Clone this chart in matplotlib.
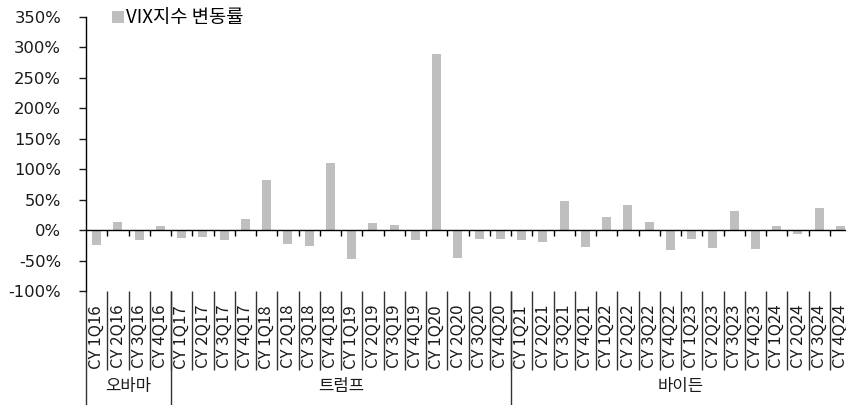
import matplotlib
matplotlib.use('Agg')
import matplotlib.pyplot as plt
import matplotlib.transforms as mtransforms
import numpy as np

plt.rcParams['font.family'] = ['Noto Sans CJK KR', 'DejaVu Sans']

quarters = [f'CY {q}Q{y}' for y in range(16, 25) for q in range(1, 5)]
vix_change = [-24, 14, -16, 7,
              -13, -11, -16, 18,
              82, -22, -26, 111,
              -48, 11, 9, -16,
              290, -45, -15, -15,
              -16, -20, 48, -27,
              21, 42, 13, -33,
              -15, -30, 31, -31,
              7, -6, 36, 7]
groups = ['오바마', '트럼프', '바이든']
group_sizes = [4, 16, 16]

fig = plt.figure(figsize=(8.46, 4.05), dpi=100)
ax = fig.add_axes([86 / 846, 1 - 291 / 405, 765 / 846, 274 / 405])

x = np.arange(len(quarters))
ax.bar(x, vix_change, width=0.43, color='#bfbfbf', label='VIX지수 변동률', zorder=2)

ax.set_xlim(-0.5, len(quarters) - 0.5)
ax.set_ylim(-100, 350)
yt = np.arange(-100, 351, 50)
ax.set_yticks(yt)
ax.set_yticklabels([f'{v}%' for v in yt], fontsize=11.8, family='DejaVu Sans')
ax.tick_params(axis='y', length=5, width=1, pad=13, colors='#1a1a1a')

for s in ['top', 'right', 'bottom']:
    ax.spines[s].set_visible(False)
ax.spines['left'].set_linewidth(1)

# zero line with small ticks at category boundaries
ax.axhline(0, color='black', lw=1, zorder=3)
bounds = np.arange(len(quarters) + 1) - 0.5
ax.vlines(bounds[1:], -9, 0, color='black', lw=1, zorder=3)

# category labels at the bottom
ax.set_xticks(x)
ax.set_xticklabels(quarters, rotation=90, fontsize=12, va='top')
ax.tick_params(axis='x', length=0, pad=10, colors='#1a1a1a')

trans = mtransforms.blended_transform_factory(ax.transData, ax.transAxes)
ax.vlines(bounds[1:], -0.29, 0, color='#333333', lw=1, transform=trans, clip_on=False)

edges = np.concatenate([[0], np.cumsum(group_sizes)]) - 0.5
ax.vlines(edges[:-1], -0.42, 0, color='#333333', lw=1, transform=trans, clip_on=False)
for i, g in enumerate(groups):
    ax.text((edges[i] + edges[i + 1]) / 2, -0.35, g, transform=trans,
            ha='center', va='center', fontsize=12, color='#1a1a1a')

ax.legend(loc='center left', bbox_to_anchor=(112 / 846, 1 - 18 / 405),
          bbox_transform=fig.transFigure, frameon=False, fontsize=13.5,
          handlelength=0.65, handleheight=0.65, handletextpad=0.1,
          borderpad=0, borderaxespad=0)

fig.savefig('out.png', dpi=100)
